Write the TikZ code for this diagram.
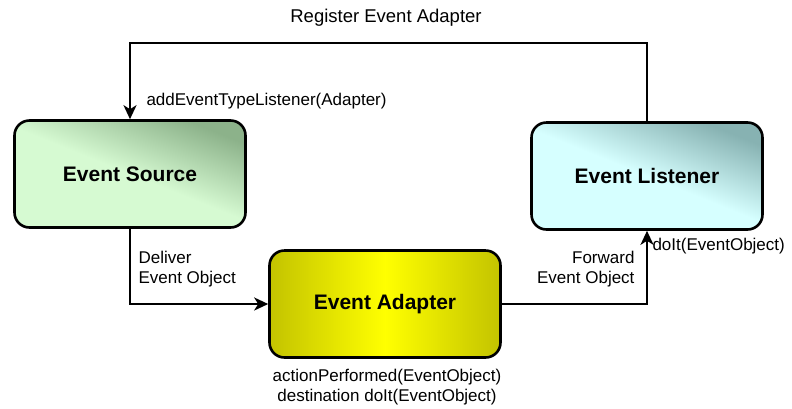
\documentclass[tikz,border=0pt]{standalone}
\usepackage{fontspec}
\setmainfont{Liberation Sans}
\usepackage{tikz}
\usetikzlibrary{arrows.meta, positioning}

\definecolor{srclight}{RGB}{214,250,210}
\definecolor{srcdark}{RGB}{140,178,138}
\definecolor{lislight}{RGB}{214,255,255}
\definecolor{lisdark}{RGB}{135,178,178}
\definecolor{adaedge}{RGB}{195,195,0}
\definecolor{adamid}{RGB}{255,255,0}

\begin{document}
\begin{tikzpicture}[x=1pt, y=-1pt,
    block/.style={rounded corners=15pt, rectangle, align=center, draw, line width=2.6pt,
        minimum width=231pt, minimum height=107pt, font=\fontsize{21}{24}\selectfont\bfseries},
    note/.style={font=\fontsize{17}{20}\selectfont},
    link/.style={line width=2.4pt, -{Stealth[length=14pt, width=13pt, inset=4pt]}}]
    \useasboundingbox (0,0) rectangle (792,408);

    \node [block, top color=srcdark, bottom color=srclight, middle color=srclight, shading angle=-22] (source) at (130,174) {Event Source};
    \node [block, top color=lisdark, bottom color=lislight, middle color=lislight, shading angle=-22] (listener) at (647,176) {Event Listener};
    \node [block, left color=adaedge, right color=adaedge, middle color=adamid] (adapter) at (385,304) {Event Adapter};

    \coordinate (topline) at (386,43);
    \node [note, font=\fontsize{18.5}{21}\selectfont] (register) at (386,18) {Register Event Adapter};
    \node [note, anchor=west] (add) at (143,101) {addEventTypeListener(Adapter)};
    \node [note, align=left, anchor=west] (deliver) at (135,269) {Deliver\\Event Object};
    \node [note, align=right, anchor=east] (forward) at (638,269) {Forward\\Event Object};
    \node [note, anchor=west] (doit) at (649,246) {doIt(EventObject)};
    \node [note, align=center] (action) at (387,387) {actionPerformed(EventObject)\\destination doIt(EventObject)};

    \path [link, draw] (listener.north) |- (topline) -| (source.north);
    \path [link, draw] (source.south) |- (adapter.west);
    \path [link, draw] (adapter.east) -| (listener.south);
\end{tikzpicture}
\end{document}
